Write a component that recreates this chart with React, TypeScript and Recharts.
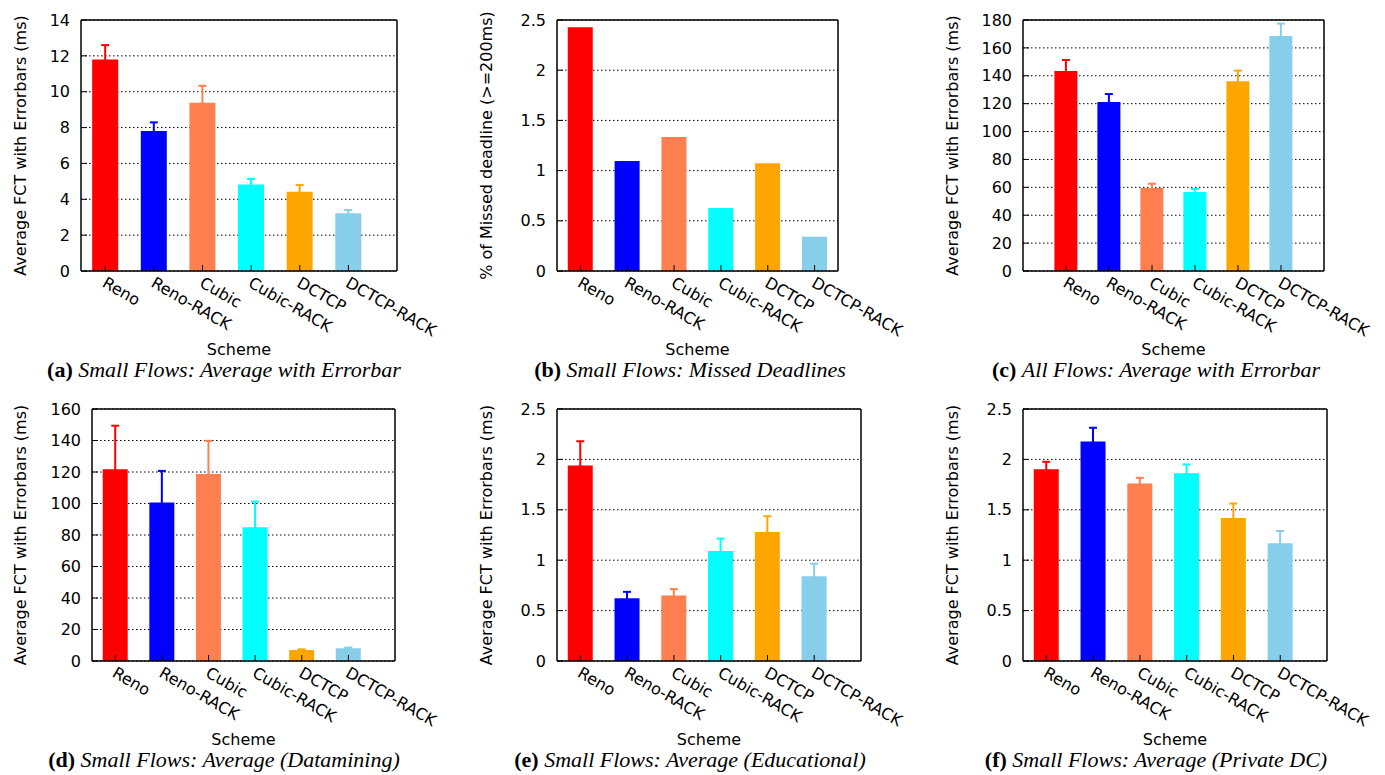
import React from "react";
import { BarChart, Bar, XAxis, YAxis, CartesianGrid, ErrorBar, Cell } from "recharts";

const schemes = ["Reno", "Reno-RACK", "Cubic", "Cubic-RACK", "DCTCP", "DCTCP-RACK"];
const colors = ["#ff0000", "#0000ff", "#ff7f50", "#00ffff", "#ffa500", "#87ceeb"];

// (a) small flows, average FCT (ms)
const smallAvg = [11.8, 7.81, 9.39, 4.83, 4.42, 3.22];
const smallAvgErr = [0.8, 0.48, 0.94, 0.3, 0.38, 0.18];
// (b) small flows, % missed deadline
const missed = [2.427, 1.096, 1.335, 0.627, 1.072, 0.342];
// (c) all flows, average FCT (ms)
const allAvg = [143.4, 121.2, 59.5, 56.7, 136.0, 168.5];
const allAvgErr = [7.9, 5.7, 3.1, 2.1, 7.7, 8.9];
// (d) datamining
const datamining = [121.8, 100.6, 118.8, 84.9, 7.0, 8.1];
const dataminingErr = [27.6, 20.1, 21.0, 16.3, 0.4, 0.4];
// (e) educational
const educational = [1.94, 0.623, 0.65, 1.091, 1.28, 0.842];
const educationalErr = [0.24, 0.063, 0.063, 0.123, 0.156, 0.123];
// (f) private DC
const privateDc = [1.903, 2.178, 1.761, 1.863, 1.419, 1.167];
const privateDcErr = [0.073, 0.136, 0.056, 0.087, 0.143, 0.123];

const ticks14 = [0, 2, 4, 6, 8, 10, 12, 14];
const ticks25 = [0, 0.5, 1, 1.5, 2, 2.5];
const ticks180 = [0, 20, 40, 60, 80, 100, 120, 140, 160, 180];
const ticks160 = [0, 20, 40, 60, 80, 100, 120, 140, 160];

const fctLabel = "Average FCT with Errorbars (ms)";
const FONT = "DejaVu Sans";

type PanelDef = {
  tag: string;
  caption: string;
  values: number[];
  errs?: number[];
  ticks: number[];
  yLabel: string;
  x: number;
  y: number;
  plotLeft: number;
  plotRight: number;
  plotTop: number;
  plotBottom: number;
  padL: number;
  padR: number;
  yLabelX: number;
  capX: number;
};

const panels: PanelDef[] = [
  { tag: "(a)", caption: "Small Flows: Average with Errorbar", values: smallAvg, errs: smallAvgErr, ticks: ticks14, yLabel: fctLabel,
    x: 0, y: 0, plotLeft: 81, plotRight: 397, plotTop: 20, plotBottom: 271, padL: 0, padR: 0.5, yLabelX: 20, capX: 224 },
  { tag: "(b)", caption: "Small Flows: Missed Deadlines", values: missed, ticks: ticks25, yLabel: "% of Missed deadline (>=200ms)",
    x: 460, y: 0, plotLeft: 557, plotRight: 838, plotTop: 20, plotBottom: 271, padL: 0, padR: 0, yLabelX: 26, capX: 690 },
  { tag: "(c)", caption: "All Flows: Average with Errorbar", values: allAvg, errs: allAvgErr, ticks: ticks180, yLabel: fctLabel,
    x: 920, y: 0, plotLeft: 1023, plotRight: 1324, plotTop: 20, plotBottom: 271, padL: 0.5, padR: 0.5, yLabelX: 32, capX: 1156 },
  { tag: "(d)", caption: "Small Flows: Average (Datamining)", values: datamining, errs: dataminingErr, ticks: ticks160, yLabel: fctLabel,
    x: 0, y: 389, plotLeft: 92, plotRight: 395, plotTop: 409, plotBottom: 661, padL: 0, padR: 0.5, yLabelX: 20, capX: 224 },
  { tag: "(e)", caption: "Small Flows: Average (Educational)", values: educational, errs: educationalErr, ticks: ticks25, yLabel: fctLabel,
    x: 460, y: 389, plotLeft: 557, plotRight: 861, plotTop: 409, plotBottom: 661, padL: 0, padR: 0.5, yLabelX: 26, capX: 690 },
  { tag: "(f)", caption: "Small Flows: Average (Private DC)", values: privateDc, errs: privateDcErr, ticks: ticks25, yLabel: fctLabel,
    x: 920, y: 389, plotLeft: 1023, plotRight: 1327, plotTop: 409, plotBottom: 661, padL: 0, padR: 0.5, yLabelX: 32, capX: 1156 },
];

const XTick = (props: any) => {
  const { x, y, payload } = props;
  return (
    <text x={0} y={0} transform={`translate(${x - 4},${y}) rotate(30)`} textAnchor="start"
      fontSize={16} fontFamily={FONT} fill="#000">
      {payload.value}
    </text>
  );
};

function Panel({ p }: { p: PanelDef }) {
  const W = 465;
  const H = 390;
  const yAxisW = 60;
  const xAxisH = 60;
  const plotW = p.plotRight - p.plotLeft;
  // one slot per scheme, plus the extra empty room gnuplot leaves at the ends
  const slot = plotW / (schemes.length + p.padL + p.padR);
  const pad = { left: slot * p.padL, right: slot * p.padR };
  const data = schemes.map((name, i) => {
    const row: any = { name, value: p.values[i] };
    if (p.errs) row["err" + i] = p.errs[i];
    return row;
  });
  const max = p.ticks[p.ticks.length - 1];
  const axisStroke = { stroke: "#000", strokeWidth: 1.5 };

  return (
    <div style={{ position: "absolute", left: p.x, top: p.y, width: W, height: H }}>
      <BarChart
        width={W}
        height={H}
        data={data}
        barCategoryGap="23%"
        margin={{
          left: p.plotLeft - p.x - yAxisW,
          right: p.x + W - p.plotRight - 1,
          top: p.plotTop - p.y - 1,
          bottom: p.y + H - p.plotBottom - xAxisH,
        }}
      >
        <CartesianGrid vertical={false} stroke="#000" strokeDasharray="1.5 2.5" />
        <XAxis
          dataKey="name"
          height={xAxisH}
          padding={pad}
          interval={0}
          tickSize={-6}
          tickMargin={21}
          tick={<XTick />}
          axisLine={axisStroke}
          tickLine={{ stroke: "#000" }}
          label={{
            content: (lp: any) => {
              const vb = lp.viewBox;
              return (
                <text x={vb.x + vb.width / 2} y={vb.y + 84} textAnchor="middle" fontSize={16} fontFamily={FONT} fill="#000">
                  Scheme
                </text>
              );
            },
          }}
        />
        <XAxis
          xAxisId="top"
          orientation="top"
          dataKey="name"
          height={1}
          padding={pad}
          interval={0}
          tickSize={-6}
          tick={false}
          axisLine={axisStroke}
          tickLine={{ stroke: "#000" }}
        />
        <YAxis
          width={yAxisW}
          domain={[0, max]}
          ticks={p.ticks}
          interval={0}
          tickSize={-6}
          tickMargin={17}
          tick={{ fill: "#000", fontSize: 16, fontFamily: FONT }}
          axisLine={axisStroke}
          tickLine={{ stroke: "#000" }}
          label={{
            content: (lp: any) => {
              const vb = lp.viewBox;
              const cy = vb.y + vb.height / 2;
              return (
                <text x={p.yLabelX} y={cy} transform={`rotate(-90, ${p.yLabelX}, ${cy})`} textAnchor="middle"
                  dominantBaseline="central" fontSize={16} fontFamily={FONT} fill="#000">
                  {p.yLabel}
                </text>
              );
            },
          }}
        />
        <YAxis
          yAxisId="right"
          orientation="right"
          width={1}
          domain={[0, max]}
          ticks={p.ticks}
          interval={0}
          tickSize={-6}
          tick={false}
          axisLine={axisStroke}
          tickLine={{ stroke: "#000" }}
        />
        <Bar dataKey="value" isAnimationActive={false}>
          {schemes.map((s, i) => (
            <Cell key={s} fill={colors[i]} />
          ))}
          {p.errs &&
            schemes.map((s, i) => (
              <ErrorBar key={"e" + s} dataKey={"err" + i} stroke={colors[i]} strokeWidth={2} width={4} isAnimationActive={false} />
            ))}
        </Bar>
      </BarChart>
    </div>
  );
}

export default function App() {
  return (
    <div style={{ position: "absolute", left: 0, top: 0, width: 1385, height: 775, background: "#fff" }}>
      {panels.map((p) => (
        <Panel key={p.tag} p={p} />
      ))}
      {panels.map((p) => (
        <div
          key={"cap" + p.tag}
          style={{
            position: "absolute",
            left: p.capX - 230,
            width: 460,
            top: p.plotBottom + 88,
            textAlign: "center",
            fontFamily: "Liberation Serif",
            fontSize: 22,
            lineHeight: "22px",
            color: "#000",
            whiteSpace: "nowrap",
          }}
        >
          <b>{p.tag}</b> <i>{p.caption}</i>
        </div>
      ))}
    </div>
  );
}
